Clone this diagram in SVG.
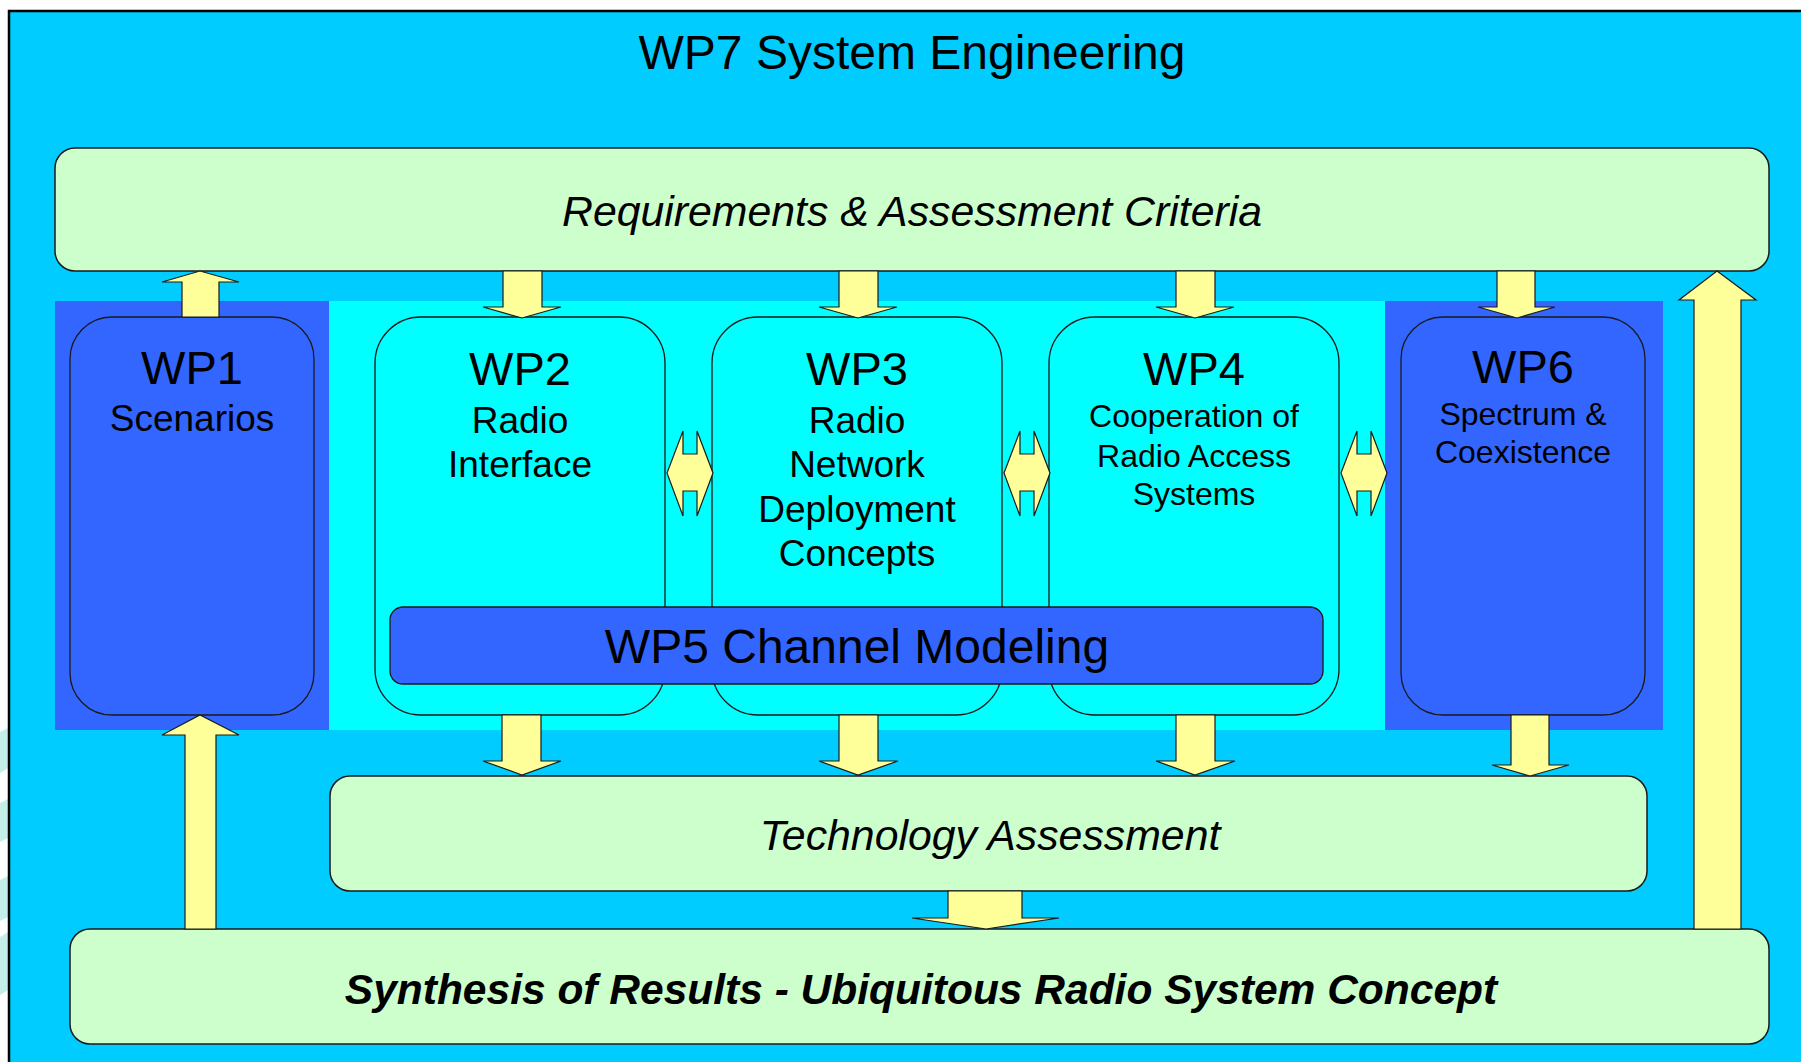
<svg xmlns="http://www.w3.org/2000/svg" width="1801" height="1062" viewBox="0 0 1801 1062">
<style>
.t{font-family:"Liberation Sans",Arial,sans-serif;fill:#000;text-anchor:middle}
.green{fill:#CCFFCC;stroke:#1a1a1a;stroke-width:1.5}
.wpc{fill:#00FFFF;stroke:#1a1a1a;stroke-width:1.3}
.wpb{fill:#3366FF;stroke:#1a1a1a;stroke-width:1.3}
.arr{fill:#FFFF99;stroke:#1a1a1a;stroke-width:1.2;stroke-linejoin:miter}
.big{font-size:47px}
.mid{font-size:37px}
.sm{font-size:32px}
.lab{font-size:42.8px;font-style:italic}
</style>
<defs>
<polygon id="dbl" class="arr" points="-23,0 -7,-42 -7,-19 7,-19 7,-42 23,0 7,43 7,18 -7,18 -7,43"/>
</defs>
<rect width="1801" height="1062" fill="#FFFFFF"/>
<g fill="#C4EEE8">
<polygon points="0,732 8,728 8,768 0,773"/>
<polygon points="0,803 8,799 8,838 0,842"/>
<polygon points="0,880 8,876 8,917 0,921"/>
<polygon points="0,937 8,932 8,990 0,995"/>
</g>
<rect id="frame" x="9" y="11" width="1800" height="1060" fill="#00CCFF" stroke="#000" stroke-width="2.5"/>
<text class="t" x="912" y="69" font-size="48">WP7 System Engineering</text>

<g id="requirements">
<rect class="green" x="55" y="148" width="1714" height="123" rx="20"/>
<text class="t lab" x="912" y="226">Requirements &amp; Assessment Criteria</text>
</g>

<g id="bands">
<rect x="55" y="301" width="274" height="429" fill="#3366FF"/>
<rect x="329" y="301" width="1056" height="429" fill="#00FFFF"/>
<rect x="1385" y="301" width="278" height="429" fill="#3366FF"/>
</g>

<g id="wp1">
<rect class="wpb" x="70" y="317" width="244" height="398" rx="42"/>
<text class="t big" x="192" y="384">WP1</text>
<text class="t mid" x="192" y="431">Scenarios</text>
</g>
<g id="wp2">
<rect class="wpc" x="375" y="317" width="290" height="398" rx="46"/>
<text class="t big" x="520" y="385">WP2</text>
<text class="t mid" x="520" y="433">Radio</text>
<text class="t mid" x="520" y="477">Interface</text>
</g>
<g id="wp3">
<rect class="wpc" x="712" y="317" width="290" height="398" rx="46"/>
<text class="t big" x="857" y="385">WP3</text>
<text class="t mid" x="857" y="433">Radio</text>
<text class="t mid" x="857" y="477">Network</text>
<text class="t mid" x="857" y="522">Deployment</text>
<text class="t mid" x="857" y="566">Concepts</text>
</g>
<g id="wp4">
<rect class="wpc" x="1049" y="317" width="290" height="398" rx="46"/>
<text class="t big" x="1194" y="385">WP4</text>
<text class="t sm" x="1194" y="427">Cooperation of</text>
<text class="t sm" x="1194" y="467">Radio Access</text>
<text class="t sm" x="1194" y="505">Systems</text>
</g>
<g id="wp6">
<rect class="wpb" x="1401" y="317" width="244" height="398" rx="42"/>
<text class="t big" x="1523" y="383">WP6</text>
<text class="t sm" x="1523" y="425">Spectrum &amp;</text>
<text class="t sm" x="1523" y="463">Coexistence</text>
</g>
<g id="wp5">
<rect class="wpb" x="390" y="607" width="933" height="77" rx="13"/>
<text class="t" x="857" y="663" font-size="48">WP5 Channel Modeling</text>
</g>

<g id="technology">
<rect class="green" x="330" y="776" width="1317" height="115" rx="20"/>
<text class="t lab" x="990" y="850">Technology Assessment</text>
</g>
<g id="synthesis">
<rect class="green" x="70" y="929" width="1699" height="115" rx="20"/>
<text class="t" x="921" y="1004" font-size="42.5" font-weight="bold" font-style="italic">Synthesis of Results - Ubiquitous Radio System Concept</text>
</g>

<g id="connectors">
<polygon class="arr" points="182,317 182,282 162,282 200,271 239,282 219,282 219,317"/>
<polygon class="arr" points="503,271 542,271 542,307 561,307 522,318 483,307 503,307"/>
<polygon class="arr" points="839,271 878,271 878,307 897,307 858,318 819,307 839,307"/>
<polygon class="arr" points="1176,271 1215,271 1215,307 1234,307 1195,318 1156,307 1176,307"/>
<polygon class="arr" points="1497,271 1535,271 1535,307 1555,307 1517,318 1478,307 1497,307"/>
<polygon class="arr" points="502,715 541,715 541,761 561,761 522,775 483,761 502,761"/>
<polygon class="arr" points="839,715 878,715 878,761 898,761 858,775 819,761 839,761"/>
<polygon class="arr" points="1176,715 1215,715 1215,761 1235,761 1195,775 1156,761 1176,761"/>
<polygon class="arr" points="1511,715 1549,715 1549,765 1569,765 1530,776 1492,765 1511,765"/>
<polygon class="arr" points="948,891 1022,891 1022,918 1059,918 986,929 912,918 948,918"/>
<polygon class="arr" points="185,929 185,735 162,735 200,715 239,735 216,735 216,929"/>
<polygon class="arr" points="1694,929 1694,300 1679,300 1717,271 1756,300 1741,300 1741,929"/>
<use href="#dbl" x="690" y="473"/>
<use href="#dbl" x="1027" y="473"/>
<use href="#dbl" x="1364" y="473"/>
</g>
</svg>
